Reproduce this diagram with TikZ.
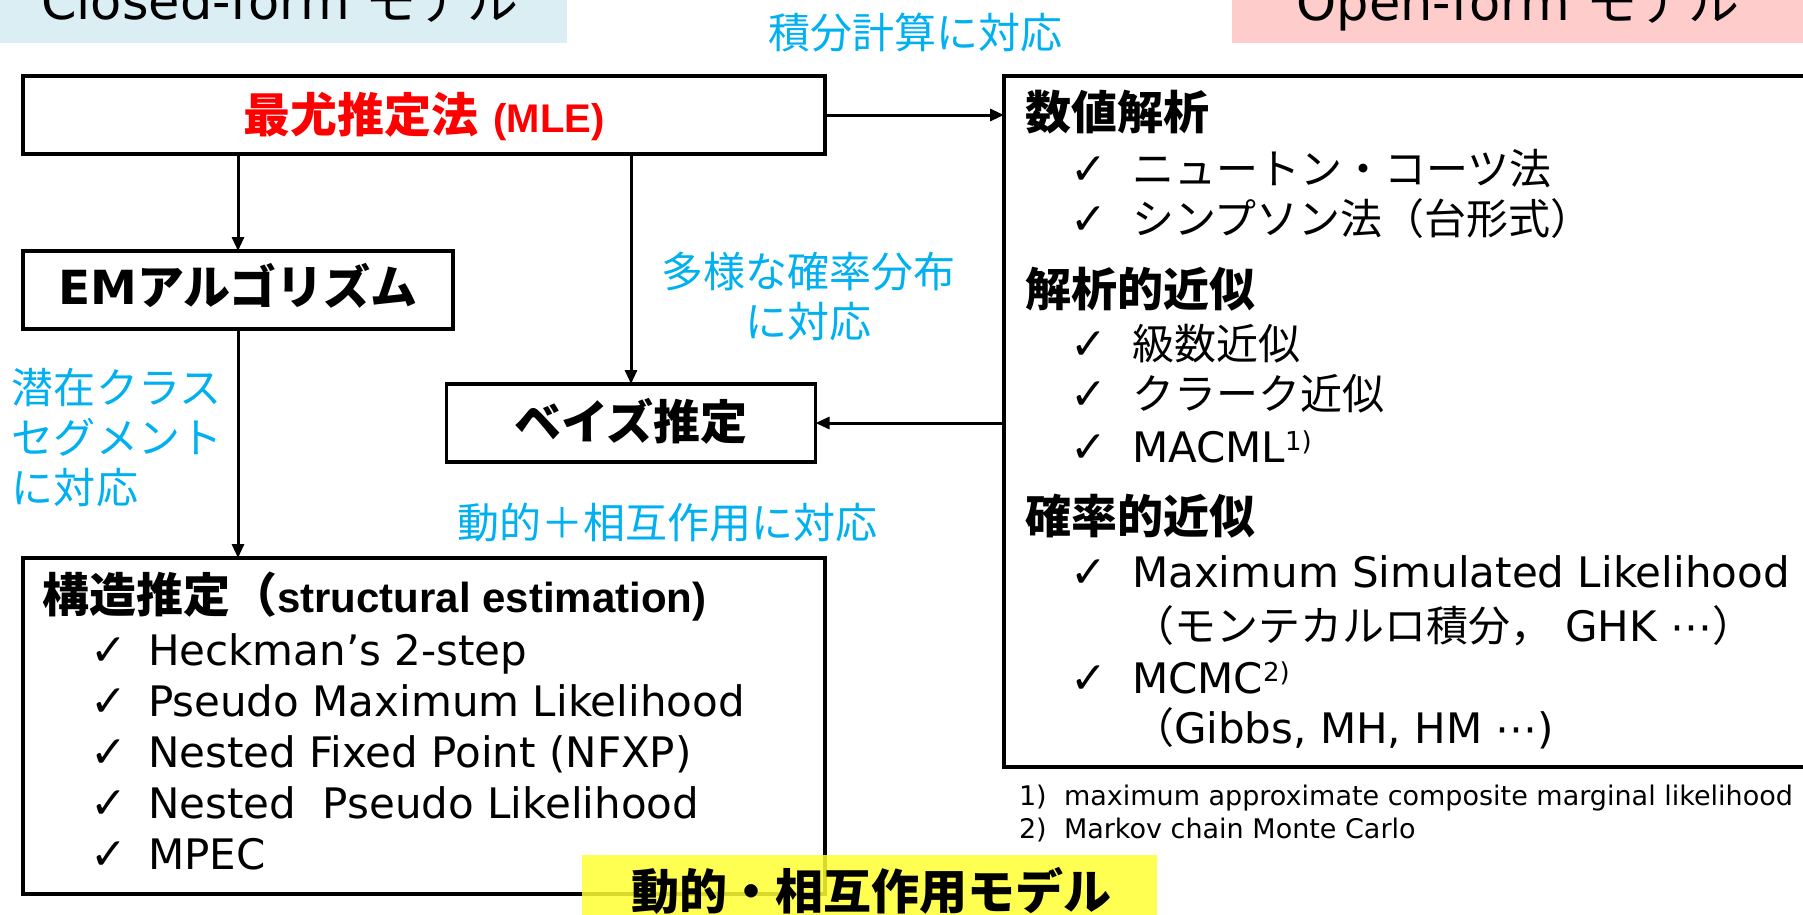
\documentclass[tikz,border=0pt]{standalone}
\usepackage{fontspec}
\setmainfont{DejaVu Sans}
\newfontfamily\jp{Noto Sans CJK JP}
\newfontfamily\latb{Liberation Sans}
\usetikzlibrary{arrows.meta}
\definecolor{cy}{HTML}{00B0F0}
\definecolor{hblue}{HTML}{DAEEF3}
\definecolor{hpink}{HTML}{FFCCCC}
\definecolor{ylw}{HTML}{FFFF33}
\definecolor{mlered}{HTML}{FF0000}
\newcommand\fs[1]{\fontsize{#1}{#1}\selectfont}
\begin{document}
\begin{tikzpicture}[x=1pt,y=-1pt,
  box/.style={draw, line width=3.2pt, inner sep=0pt, outer sep=0pt},
  arr/.style={draw, line width=3pt, -{Triangle[length=14pt,width=12pt]}},
  txt/.style={inner sep=0pt, outer sep=0pt, anchor=base west},
  ctxt/.style={inner sep=0pt, outer sep=0pt, anchor=base},
  item/.style={txt, font=\fs{42}},
  chk/.style={txt, font=\fs{44}},
  sect/.style={txt, font=\fs{46}\jp\bfseries},
  lbl/.style={ctxt, font=\fs{42}\jp, text=cy},
  foot/.style={txt, font=\fs{27}}
]
\useasboundingbox (0,0) rectangle (1803,914);
\clip (0,0) rectangle (1803,914);

% headers
\fill[hblue] (0,0) rectangle (567,43);
\node[ctxt, font=\fs{51}] (hc) at (280,19) {Closed-form {\jp モデル}};
\fill[hpink] (1232,0) rectangle (1803,43);
\node[ctxt, font=\fs{51}] (ho) at (1518,20) {Open-form {\jp モデル}};

% boxes
\node[box, minimum width=802pt, minimum height=78pt] (mle) at (424,115) {};
\node[ctxt, font=\fs{47}, text=mlered] (mlet) at (424,132) {{\jp\bfseries 最尤推定法} {\latb\bfseries\fs{40}(MLE)}};

\node[box, minimum width=430pt, minimum height=78pt] (em) at (238,290) {};
\node[ctxt, font=\fs{47}\bfseries] (emt) at (238,304) {EM{\jp アルゴリズム}};

\node[box, minimum width=369pt, minimum height=78pt] (bayes) at (631,423) {};
\node[ctxt, font=\fs{47}\jp\bfseries] (bayest) at (631,439) {ベイズ推定};

\node[box, minimum width=802pt, minimum height=336pt] (st) at (424,726) {};
\node[box, minimum width=811pt, minimum height=691pt] (rb) at (1409.5,421.5) {};

% arrows
\draw[arr] (mle.south -| em.north) -- (em.north);
\draw[arr] (mle.south -| bayes.north) -- (bayes.north);
\draw[arr] (em.south) -- (em.south |- st.north);
\draw[arr] (mle.east) -- (mle.east -| rb.west);
\draw[arr] (rb.west |- bayes.east) -- (bayes.east);

% cyan labels
\node[lbl] (l1) at (915,48) {積分計算に対応};
\node[lbl] (l2a) at (808,287) {多様な確率分布};
\node[lbl] (l2b) at (808,337) {に対応};
\node[lbl] (l3) at (667,538) {動的＋相互作用に対応};
\node[txt, font=\fs{42}\jp, text=cy] (l4a) at (12,403) {潜在クラス};
\node[txt, font=\fs{42}\jp, text=cy] (l4b) at (12,453) {セグメント};
\node[txt, font=\fs{42}\jp, text=cy] (l4c) at (12,503) {に対応};

% structural estimation contents
\node[txt, font=\fs{47}] (sh) at (42,612) {{\jp\bfseries 構造推定（}{\latb\bfseries\fs{42}structural estimation)}};
\node[chk] (sc1) at (90,665) {✓};
\node[item] (s1) at (148,665) {Heckman’s 2-step};
\node[chk] (sc2) at (90,716) {✓};
\node[item] (s2) at (148,716) {Pseudo Maximum Likelihood};
\node[chk] (sc3) at (90,767) {✓};
\node[item] (s3) at (148,767) {Nested Fixed Point (NFXP)};
\node[chk] (sc4) at (90,818) {✓};
\node[item] (s4) at (148,818) {Nested\ \ Pseudo Likelihood};
\node[chk] (sc5) at (90,869) {✓};
\node[item] (s5) at (148,869) {MPEC};

% right box contents
\node[sect] (r0) at (1025,129) {数値解析};
\node[chk] (rc1) at (1070,184) {✓};
\node[item] (r1) at (1132,184) {\jp ニュートン・コーツ法};
\node[chk] (rc2) at (1070,234) {✓};
\node[item] (r2) at (1132,234) {\jp シンプソン法（台形式）};
\node[sect] (r3) at (1025,306) {解析的近似};
\node[chk] (rc4) at (1070,359) {✓};
\node[item] (r4) at (1132,359) {\jp 級数近似};
\node[chk] (rc5) at (1070,409) {✓};
\node[item] (r5) at (1132,409) {\jp クラーク近似};
\node[chk] (rc6) at (1070,462) {✓};
\node[item] (r6) at (1132,462) {MACML\raisebox{12pt}{\fs{26}1)}};
\node[sect] (r7) at (1025,533) {確率的近似};
\node[chk] (rc8) at (1070,587) {✓};
\node[item] (r8) at (1132,587) {Maximum Simulated Likelihood};
\node[item] (r9) at (1132,641) {{\jp （モンテカルロ積分，}\ GHK ⋯{\jp ）}};
\node[chk] (rc10) at (1070,693) {✓};
\node[item] (r10) at (1132,693) {MCMC\raisebox{12pt}{\fs{26}2)}};
\node[item] (r11) at (1132,743) {{\jp （}Gibbs, MH, HM ⋯)};

% footnotes
\node[foot] (f1n) at (1019,805) {1)};
\node[foot] (f1) at (1064,805) {maximum approximate composite marginal likelihood};
\node[foot] (f2n) at (1019,838) {2)};
\node[foot] (f2) at (1064,838) {Markov chain Monte Carlo};

% yellow banner
\fill[ylw, fill opacity=0.85] (582,855) rectangle (1157,920);
\node[ctxt, font=\fs{48}\jp\bfseries] (dyn) at (871,909) {動的・相互作用モデル};
\end{tikzpicture}
\end{document}
